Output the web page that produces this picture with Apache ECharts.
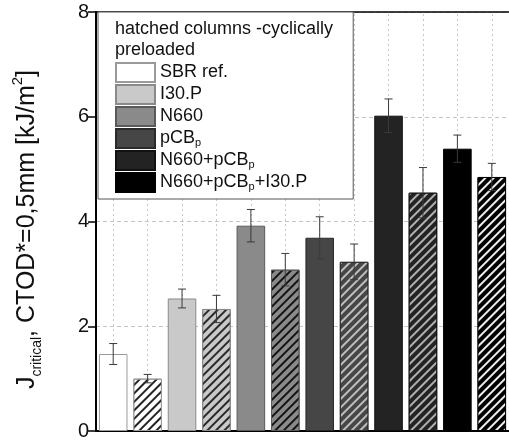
<!DOCTYPE html>
<html>
<head>
<meta charset="utf-8">
<script src="https://cdn.jsdelivr.net/npm/echarts@6/dist/echarts.min.js"></script>
<style>
  html, body { margin: 0; padding: 0; background: #fff; }
  #chart { width: 509px; height: 441px; }
</style>
</head>
<body>
<div id="chart"></div>
<script>
// bar order: solid (as received) then hatched (cyclically preloaded) for each material
const categories = ['SBR ref.', 'SBR ref. pre', 'I30.P', 'I30.P pre', 'N660', 'N660 pre',
    'pCBp', 'pCBp pre', 'N660+pCBp', 'N660+pCBp pre', 'N660+pCBp+I30.P', 'N660+pCBp+I30.P pre']
const materials = ['SBR ref.', 'I30.P', 'N660', 'pCBp', 'N660+pCBp', 'N660+pCBp+I30.P']
const jValues = [1.47, 1.00, 2.53, 2.33, 3.92, 3.08, 3.69, 3.23, 6.02, 4.55, 5.39, 4.85]
const jErrors = [0.20, 0.08, 0.18, 0.26, 0.31, 0.31, 0.40, 0.34, 0.32, 0.48, 0.26, 0.26]
const yTicks = [0, 2, 4, 6, 8]

const fillColors = ['#ffffff', '#c9c9c9', '#8a8a8a', '#464646', '#232323', '#000000']
const borderColors = ['#9a9a9a', '#8a8a8a', '#5a5a5a', '#2a2a2a', '#111111', '#000000']
const hatchColors = ['#222222', '#2a2a2a', '#151515', '#bdbdbd', '#b0b0b0', '#eeeeee']

const chart = echarts.init(document.getElementById('chart'))

function hatch (color) {
    return {
        symbol: 'rect',
        symbolSize: 1,
        dashArrayX: [1, 0],
        dashArrayY: [1.6, 3.4],
        rotation: -Math.PI / 4,
        color: color
    }
}

const barSeries = materials.map(function (m, k) {
    const data = categories.map(function (c, i) {
        if (Math.floor(i / 2) !== k) return '-'
        const item = { value: jValues[i] }
        if (i % 2 === 1) {
            item.itemStyle = { decal: hatch(hatchColors[k]) }
        }
        return item
    })
    return {
        name: m,
        type: 'bar',
        stack: 'all',
        barCategoryGap: '17%',
        z: 3,
        itemStyle: {
            color: fillColors[k],
            borderColor: borderColors[k],
            borderWidth: 1
        },
        data: data
    }
})

const errorSeries = {
    type: 'custom',
    z: 5,
    silent: true,
    data: categories.map(function (c, i) {
        return [i, jValues[i] - jErrors[i], jValues[i] + jErrors[i]]
    }),
    renderItem: function (params, api) {
        const lo = api.coord([api.value(0), api.value(1)])
        const hi = api.coord([api.value(0), api.value(2)])
        const half = 4
        const style = { stroke: '#3a3a3a', lineWidth: 1 }
        return {
            type: 'group',
            children: [
                { type: 'line', shape: { x1: hi[0], y1: hi[1], x2: lo[0], y2: lo[1] }, style: style },
                { type: 'line', shape: { x1: hi[0] - half, y1: hi[1], x2: hi[0] + half, y2: hi[1] }, style: style },
                { type: 'line', shape: { x1: lo[0] - half, y1: lo[1], x2: lo[0] + half, y2: lo[1] }, style: style }
            ]
        }
    }
}

// vertical dotted grid lines at the column centres
const gridSeries = {
    type: 'line',
    z: 1,
    silent: true,
    showSymbol: false,
    data: categories.map(function () { return '-' }),
    markLine: {
        z: 1,
        silent: true,
        symbol: ['none', 'none'],
        label: { show: false },
        lineStyle: { color: '#c8c8c8', type: [2, 3], width: 1 },
        data: categories.map(function (c) { return { xAxis: c } })
    }
}

const option = {
    animation: false,
    backgroundColor: '#fff',
    title: {
        text: 'hatched columns -cyclically\npreloaded',
        left: 110,
        top: 14,
        textStyle: {
            fontFamily: 'Liberation Sans',
            fontSize: 18,
            fontWeight: 'normal',
            lineHeight: 21,
            color: '#111'
        },
        z: 10
    },
    legend: {
        data: materials,
        orient: 'vertical',
        icon: 'rect',
        left: 98,
        top: 12,
        padding: [50, 46, 6, 17],
        itemWidth: 39,
        itemHeight: 19,
        itemGap: 1,
        backgroundColor: '#fff',
        borderColor: '#555',
        borderWidth: 1,
        borderRadius: 0,
        selectedMode: false,
        z: 8,
        formatter: function (name) {
            return name.replace(/pCBp/g, 'pCB{s|p}')
        },
        textStyle: {
            fontFamily: 'Liberation Sans',
            fontSize: 18,
            color: '#111',
            lineHeight: 19,
            rich: {
                s: { fontFamily: 'Liberation Sans', fontSize: 11, color: '#111', verticalAlign: 'bottom', lineHeight: 15 }
            }
        }
    },
    grid: {
        left: 96,
        right: -8,
        top: 12,
        bottom: 8.5
    },
    xAxis: [{
        type: 'category',
        data: categories,
        position: 'bottom',
        axisLine: { show: true, lineStyle: { color: '#000', width: 2 } },
        axisTick: { show: false },
        axisLabel: { show: false },
        splitLine: { show: false }
    }, {
        type: 'category',
        data: categories,
        position: 'top',
        axisLine: { show: true, lineStyle: { color: '#000', width: 1.5 } },
        axisTick: { show: false },
        axisLabel: { show: false },
        splitLine: { show: false }
    }],
    yAxis: {
        type: 'value',
        min: yTicks[0],
        max: yTicks[yTicks.length - 1],
        interval: 2,
        name: '{a|J}{s|critical}{a|, CTOD*=0,5mm [kJ/m}{p|2}{a|]}',
        nameLocation: 'middle',
        nameGap: 52,
        nameTextStyle: {
            fontFamily: 'Liberation Sans',
            fontSize: 25,
            color: '#111',
            padding: [0, 16, 0, 0],
            rich: {
                a: { fontFamily: 'Liberation Sans', fontSize: 25, color: '#111', lineHeight: 34, verticalAlign: 'middle' },
                s: { fontFamily: 'Liberation Sans', fontSize: 14, color: '#111', lineHeight: 34, verticalAlign: 'bottom' },
                p: { fontFamily: 'Liberation Sans', fontSize: 15, color: '#111', lineHeight: 34, verticalAlign: 'top' }
            }
        },
        axisLine: { show: true, lineStyle: { color: '#000', width: 2 } },
        axisTick: { show: true, inside: false, length: 8, lineStyle: { color: '#000', width: 1.5 } },
        axisLabel: {
            fontFamily: 'Liberation Sans',
            fontSize: 20,
            color: '#111',
            margin: 7
        },
        splitLine: {
            show: true,
            lineStyle: { color: '#c4c4c4', type: [4, 3], width: 1 }
        }
    },
    series: [gridSeries].concat(barSeries, [errorSeries])
}

chart.setOption(option)
</script>
</body>
</html>
